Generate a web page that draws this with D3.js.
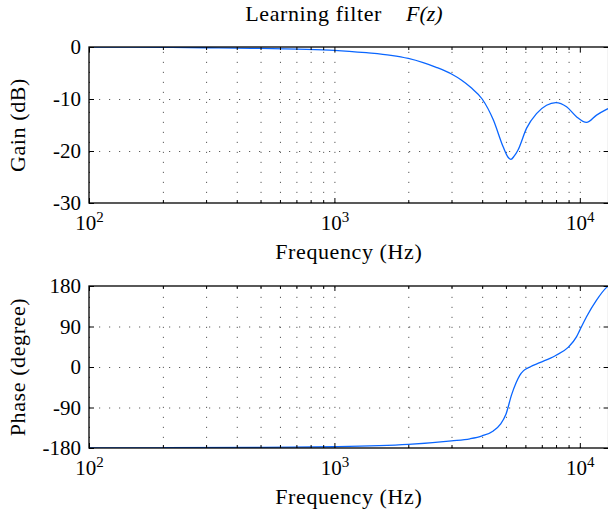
<!DOCTYPE html>
<html><head><meta charset="utf-8">
<script src="https://cdn.jsdelivr.net/npm/d3@7"></script>
<style>
body{margin:0;background:#fff}
svg{display:block}
text{font-family:"Liberation Serif","Times New Roman",serif;fill:#000}
</style></head><body>
<script>
// Frequency response of the learning filter F(z)
const gainFreq = [100,150,200,300,400,500,700,1000,1350,1700,2000,2300,2600,3000,3300,3600,4000,4440,4870,5100,5240,5400,5600,6070,6660,7320,7980,8830,9690,10650,11700,12850,13100];
const gainDb   = [-0.02,-0.04,-0.07,-0.14,-0.21,-0.28,-0.42,-0.63,-1.1,-1.6,-2.2,-3.0,-3.9,-5.2,-6.4,-7.8,-10.0,-14,-19.2,-21.2,-21.6,-21.0,-19.8,-15.6,-12.8,-11.2,-10.7,-11.5,-13.4,-14.5,-13.1,-12.0,-11.8];
const phaseFreq = [100,200,500,1000,2000,3000,3565,4000,4440,4750,5000,5270,5500,5700,5900,6260,6870,7910,8960,9690,10000,10650,11700,12850,13100];
const phaseDeg  = [-179.8,-179.5,-178.6,-177.2,-172,-164,-159.5,-153,-142,-127,-105,-62,-35,-18,-8,0,9.6,24.5,43.7,67,82,111.7,148.7,177,181];
const gainTicks = [0,-10,-20,-30];
const phaseTicks = [180,90,0,-90,-180];
const decadeTicks = [100,1000,10000];
const titleText = "Learning filter";
const titleMath = "F(z)";
const xLabel = "Frequency (Hz)";
const gainLabel = "Gain (dB)";
const phaseLabel = "Phase (degree)";

const FONT = '"Liberation Serif","Times New Roman",serif';
const LABEL_SIZE = 22;
const LABEL_SPACING = 0.6;
const W = 608, H = 515;
const svg = d3.select("body").append("svg").attr("width", W).attr("height", H);

const x = d3.scaleLog().domain([100, 13100]).range([89, 608.6]);
const minorTicks = [];
decadeTicks.forEach(d => { for (let k = 2; k <= 9; k++) { const v = d * k; if (v <= 13100) minorTicks.push(v); } });
const allX = decadeTicks.concat(minorTicks);

const lineColor = "#0a66ff";

function panel(id, top, bottom, yDomain, yTicks, freq, vals, ylabel) {
  const y = d3.scaleLinear().domain(yDomain).range([bottom, top]);
  const left = x.range()[0], right = x.range()[1];
  const g = svg.append("g");

  g.append("clipPath").attr("id", id).append("rect")
    .attr("x", left).attr("y", top).attr("width", right - left).attr("height", bottom - top);

  // dotted grid
  const vg = g.append("g").attr("transform", `translate(0,${bottom})`)
    .call(d3.axisBottom(x).tickValues(allX).tickSize(-(bottom - top)).tickFormat(""));
  vg.select(".domain").remove();
  vg.selectAll("line").attr("stroke", "#333").attr("stroke-width", 1).attr("stroke-dasharray", "1.2,8.8").attr("opacity", 0.8);

  const hg = g.append("g").attr("transform", `translate(${left},0)`)
    .call(d3.axisLeft(y).tickValues(yTicks.filter(t => t !== yDomain[0] && t !== yDomain[1])).tickSize(-(right - left)).tickFormat(""));
  hg.select(".domain").remove();
  hg.selectAll("line").attr("stroke", "#333").attr("stroke-width", 1).attr("stroke-dasharray", "1.2,8.8").attr("opacity", 0.8);

  // curve
  const line = d3.line().x(d => x(d[0])).y(d => y(d[1])).curve(d3.curveMonotoneX);
  g.append("path").datum(freq.map((f, i) => [f, vals[i]]))
    .attr("clip-path", `url(#${id})`)
    .attr("d", line).attr("fill", "none").attr("stroke", lineColor).attr("stroke-width", 1.3);

  // inward ticks on all four sides
  const styleAxis = sel => { sel.select(".domain").remove(); sel.selectAll("line").attr("stroke", "#000").attr("stroke-width", 1); };
  g.append("g").attr("transform", `translate(0,${bottom})`)
    .call(d3.axisBottom(x).tickValues(minorTicks).tickSize(-3).tickFormat("")).call(styleAxis);
  g.append("g").attr("transform", `translate(0,${top})`)
    .call(d3.axisTop(x).tickValues(minorTicks).tickSize(-3).tickFormat("")).call(styleAxis);
  g.append("g").attr("transform", `translate(0,${top})`)
    .call(d3.axisTop(x).tickValues(decadeTicks).tickSize(-5).tickFormat("")).call(styleAxis);
  g.append("g").attr("transform", `translate(${right},0)`)
    .call(d3.axisRight(y).tickValues(yTicks).tickSize(-5).tickFormat("")).call(styleAxis);

  const xb = g.append("g").attr("transform", `translate(0,${bottom})`)
    .call(d3.axisBottom(x).tickValues(decadeTicks).tickSize(-5).tickPadding(0).tickFormat(""));
  styleAxis(xb);
  xb.selectAll(".tick text").remove();
  xb.selectAll(".tick").append("text")
    .attr("y", 26.5).attr("text-anchor", "middle").attr("font-size", 21).attr("fill", "#000")
    .attr("font-family", FONT).attr("stroke", "none")
    .each(function (d) {
      const t = d3.select(this);
      t.append("tspan").text("10");
      t.append("tspan").attr("dy", -8).attr("font-size", 15).text(Math.round(Math.log10(d)));
    });

  const yl = g.append("g").attr("transform", `translate(${left},0)`)
    .call(d3.axisLeft(y).tickValues(yTicks).tickSize(-5).tickPadding(8).tickFormat(d => String(d)));
  styleAxis(yl);
  yl.selectAll("text").attr("font-size", 21).attr("font-family", FONT).attr("fill", "#000");

  // frame
  g.append("rect").attr("x", left).attr("y", top).attr("width", right - left).attr("height", bottom - top)
    .attr("fill", "none").attr("stroke", "#000").attr("stroke-width", 1.3);

  // axis titles
  g.append("text").attr("x", (left + right) / 2).attr("y", bottom + 55.5)
    .attr("text-anchor", "middle").attr("font-size", LABEL_SIZE).attr("font-family", FONT)
    .attr("letter-spacing", LABEL_SPACING).text(xLabel);
  g.append("text").attr("transform", `translate(25,${(top + bottom) / 2}) rotate(-90)`)
    .attr("text-anchor", "middle").attr("font-size", LABEL_SIZE).attr("font-family", FONT)
    .attr("letter-spacing", LABEL_SPACING).text(ylabel);
}

panel("clipGain", 47, 203, [-30, 0], gainTicks, gainFreq, gainDb, gainLabel);
panel("clipPhase", 286, 448, [-180, 180], phaseTicks, phaseFreq, phaseDeg, phaseLabel);

// title
svg.append("text").attr("x", 382).attr("y", 21).attr("text-anchor", "end")
  .attr("font-size", LABEL_SIZE).attr("font-family", FONT).attr("letter-spacing", LABEL_SPACING).text(titleText);
svg.append("text").attr("x", 406).attr("y", 21).attr("text-anchor", "start")
  .attr("font-size", LABEL_SIZE).attr("font-family", FONT).attr("font-style", "italic").text(titleMath);
</script>
</body></html>
